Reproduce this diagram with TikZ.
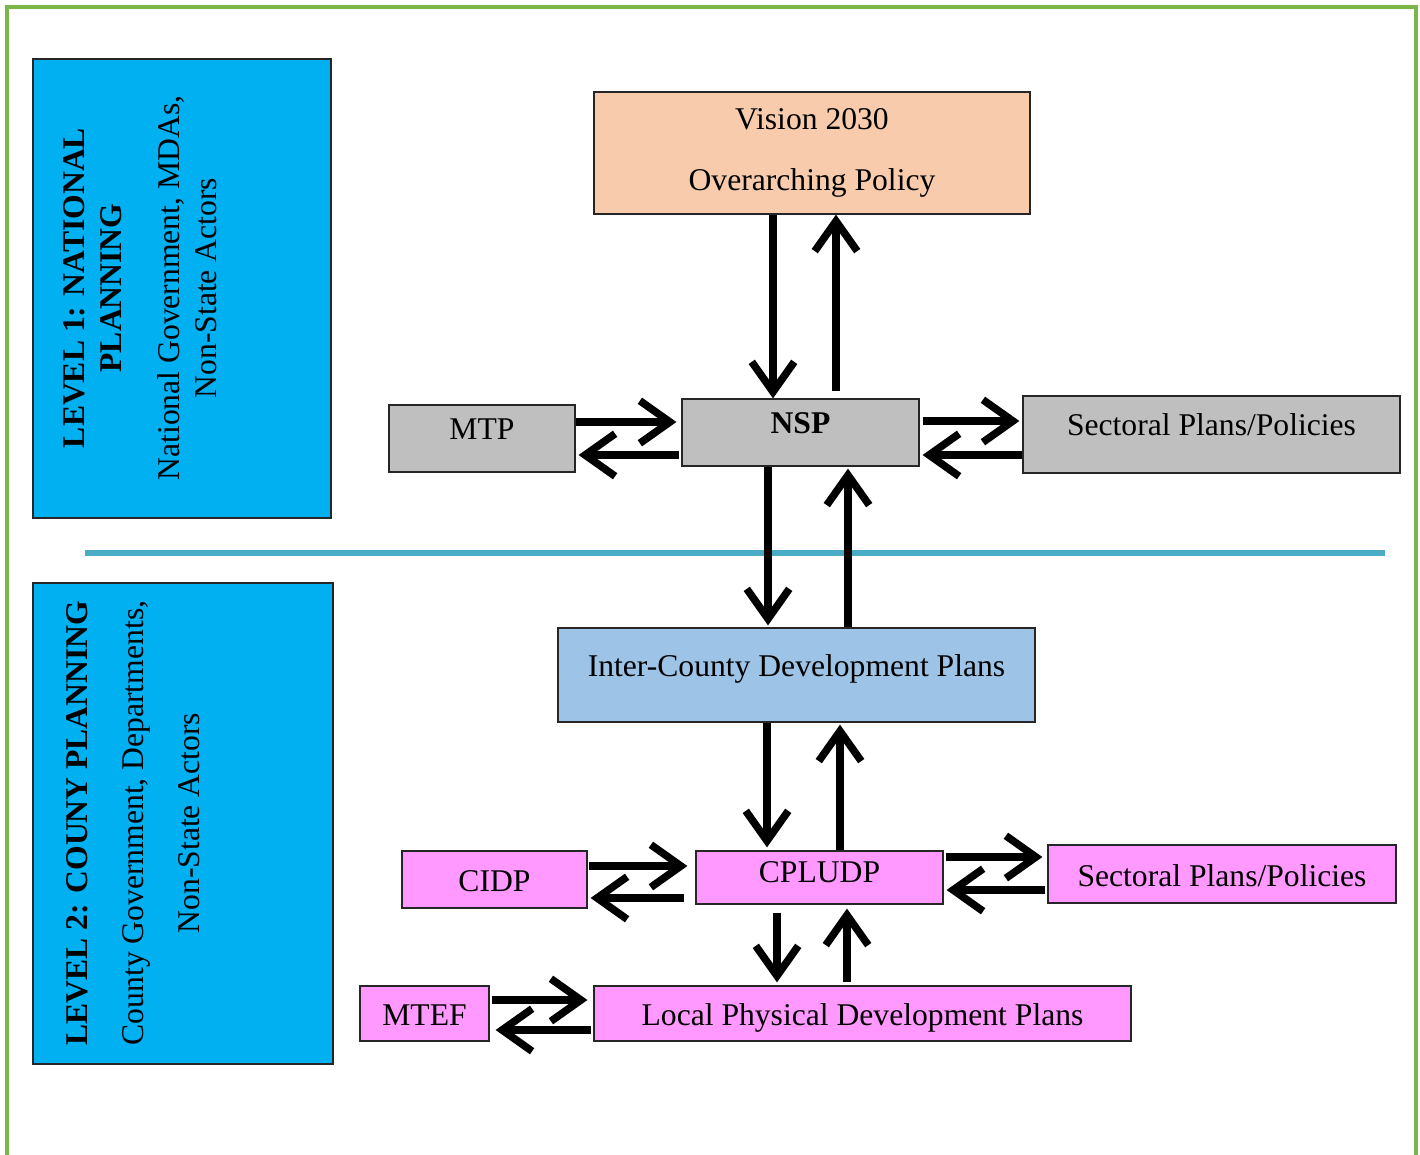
\documentclass[tikz,border=0pt]{standalone}
\usepackage{fontspec}
\setmainfont{Liberation Serif}
\usetikzlibrary{arrows.meta}
\definecolor{frame}{RGB}{122,182,72}
\definecolor{level}{RGB}{0,176,240}
\definecolor{rule}{RGB}{75,172,198}
\definecolor{peach}{RGB}{248,203,173}
\definecolor{grey}{RGB}{191,191,191}
\definecolor{pale}{RGB}{157,195,230}
\definecolor{pink}{RGB}{255,153,255}

\tikzset{
    box/.style={draw=black!85, line width=0.7pt, inner sep=0pt, align=center,
        font=\fontsize{18}{21}\selectfont, text height=16pt, text depth=2pt},
    raised/.style={text depth=14.5pt},
    flow/.style={line width=4.3pt, -{Straight Barb[length=0.6cm, width=0.85cm]}}
}

\begin{document}
\begin{tikzpicture}[x=0.02cm, y=-0.02cm]
        \useasboundingbox (0,0) rectangle (1420,1155);
        \draw[frame, line width=1.8pt] (7,1170) -- (7,7) -- (1416,7) -- (1416,1170);

        % Planning levels
        \node[box, fill=level, minimum width=5.96cm, minimum height=9.18cm] (lvlone) at (182,288.5) {};
        \node[box, fill=level, minimum width=6cm, minimum height=9.62cm] (lvltwo) at (183,823.5) {};
        \node[rotate=90, align=center, font=\fontsize{18}{21}\selectfont] (lvlonetxt) at (140,288)
            {\textbf{LEVEL 1: NATIONAL}\\\textbf{PLANNING}\\[12pt]National Government, MDAs,\\Non-State Actors};
        \node[rotate=90, align=center, font=\fontsize{18}{21}\selectfont] (lvltwotxt) at (133,823)
            {\textbf{LEVEL 2: COUNY PLANNING}\\[11pt]County Government, Departments,\\[11pt]Non-State Actors};

        \draw[rule, line width=3.4pt] (85,553) -- (1385,553);

        % National boxes
        \node[box, fill=peach, text height={}, text depth={}, minimum width=8.72cm, minimum height=2.44cm] (vision) at (812,153)
            {Vision 2030\\[14pt]Overarching Policy};
        \node[box, fill=grey, raised, minimum width=4.74cm, minimum height=1.34cm] (nsp) at (800.5,432.5) {\textbf{NSP}};
        \node[box, fill=grey, raised, minimum width=3.72cm, minimum height=1.34cm] (mtp) at (482,438.5) {MTP};
        \node[box, fill=grey, raised, minimum width=7.54cm, minimum height=1.54cm] (secn) at (1211.5,434.5) {Sectoral Plans/Policies};

        % County boxes
        \node[box, fill=pale, raised, minimum width=9.54cm, minimum height=1.88cm] (icdp) at (796.5,675) {Inter-County Development Plans};
        \node[box, fill=pink, text depth=10.6pt, minimum width=4.94cm, minimum height=1.06cm] (cpludp) at (819.5,877.5) {CPLUDP};
        \node[box, fill=pink, minimum width=3.7cm, minimum height=1.14cm] (cidp) at (494.5,879.5) {CIDP};
        \node[box, fill=pink, minimum width=6.96cm, minimum height=1.16cm] (secc) at (1222,874) {Sectoral Plans/Policies};
        \node[box, fill=pink, minimum width=2.58cm, minimum height=1.1cm] (mtef) at (424.5,1013.5) {MTEF};
        \node[box, fill=pink, minimum width=10.74cm, minimum height=1.1cm] (lpdp) at (862.5,1013.5) {Local Physical Development Plans};

        % Vision and NSP
        \draw[flow] ([xshift=-0.55cm]nsp.north |- vision.south) -- ([xshift=-0.55cm]nsp.north);
        \draw[flow, shorten <=0.14cm] ([xshift=0.71cm]nsp.north) -- ([xshift=0.71cm]nsp.north |- vision.south);

        % NSP sideways
        \draw[flow, shorten >=0.1cm] ([yshift=0.33cm]mtp.east) -- ([yshift=0.33cm]mtp.east -| nsp.west);
        \draw[flow, shorten <=0.04cm, shorten >=0.06cm] ([yshift=-0.33cm]mtp.east -| nsp.west) -- ([yshift=-0.33cm]mtp.east);
        \draw[flow, shorten <=0.06cm, shorten >=0.06cm] ([yshift=0.23cm]nsp.east) -- ([yshift=0.23cm]nsp.east -| secn.west);
        \draw[flow, shorten >=0.06cm] ([yshift=-0.45cm]nsp.east -| secn.west) -- ([yshift=-0.45cm]nsp.east);

        % NSP and Inter-County
        \draw[flow, shorten >=0.04cm] ([xshift=-0.65cm]nsp.south) -- ([xshift=-0.65cm]nsp.south |- icdp.north);
        \draw[flow, shorten >=0.04cm] ([xshift=0.95cm]nsp.south |- icdp.north) -- ([xshift=0.95cm]nsp.south);

        % Inter-County and CPLUDP
        \draw[flow, shorten >=0.06cm] ([xshift=-1.05cm]cpludp.north |- icdp.south) -- ([xshift=-1.05cm]cpludp.north);
        \draw[flow, shorten >=0.04cm] ([xshift=0.41cm]cpludp.north) -- ([xshift=0.41cm]cpludp.north |- icdp.south);

        % CPLUDP sideways
        \draw[flow, shorten <=0.02cm, shorten >=0.16cm] ([yshift=0.27cm]cidp.east) -- ([yshift=0.27cm]cidp.east -| cpludp.west);
        \draw[flow, shorten <=0.22cm, shorten >=0.06cm] ([yshift=-0.37cm]cidp.east -| cpludp.west) -- ([yshift=-0.37cm]cidp.east);
        \draw[flow, shorten <=0.04cm, shorten >=0.1cm] ([yshift=0.41cm]cpludp.east) -- ([yshift=0.41cm]cpludp.east -| secc.west);
        \draw[flow, shorten <=0.04cm, shorten >=0.06cm] ([yshift=-0.25cm]cpludp.east -| secc.west) -- ([yshift=-0.25cm]cpludp.east);

        % CPLUDP and Local plans
        \draw[flow, shorten <=0.16cm, shorten >=0.06cm] ([xshift=-0.85cm]cpludp.south) -- ([xshift=-0.85cm]cpludp.south |- lpdp.north);
        \draw[flow, shorten <=0.06cm, shorten >=0.08cm] ([xshift=0.55cm]cpludp.south |- lpdp.north) -- ([xshift=0.55cm]cpludp.south);

        % MTEF
        \draw[flow, shorten <=0.04cm, shorten >=0.12cm] ([yshift=0.27cm]mtef.east) -- ([yshift=0.27cm]mtef.east -| lpdp.west);
        \draw[flow, shorten <=0.04cm, shorten >=0.12cm] ([yshift=-0.33cm]mtef.east -| lpdp.west) -- ([yshift=-0.33cm]mtef.east);
    \end{tikzpicture}
\end{document}
